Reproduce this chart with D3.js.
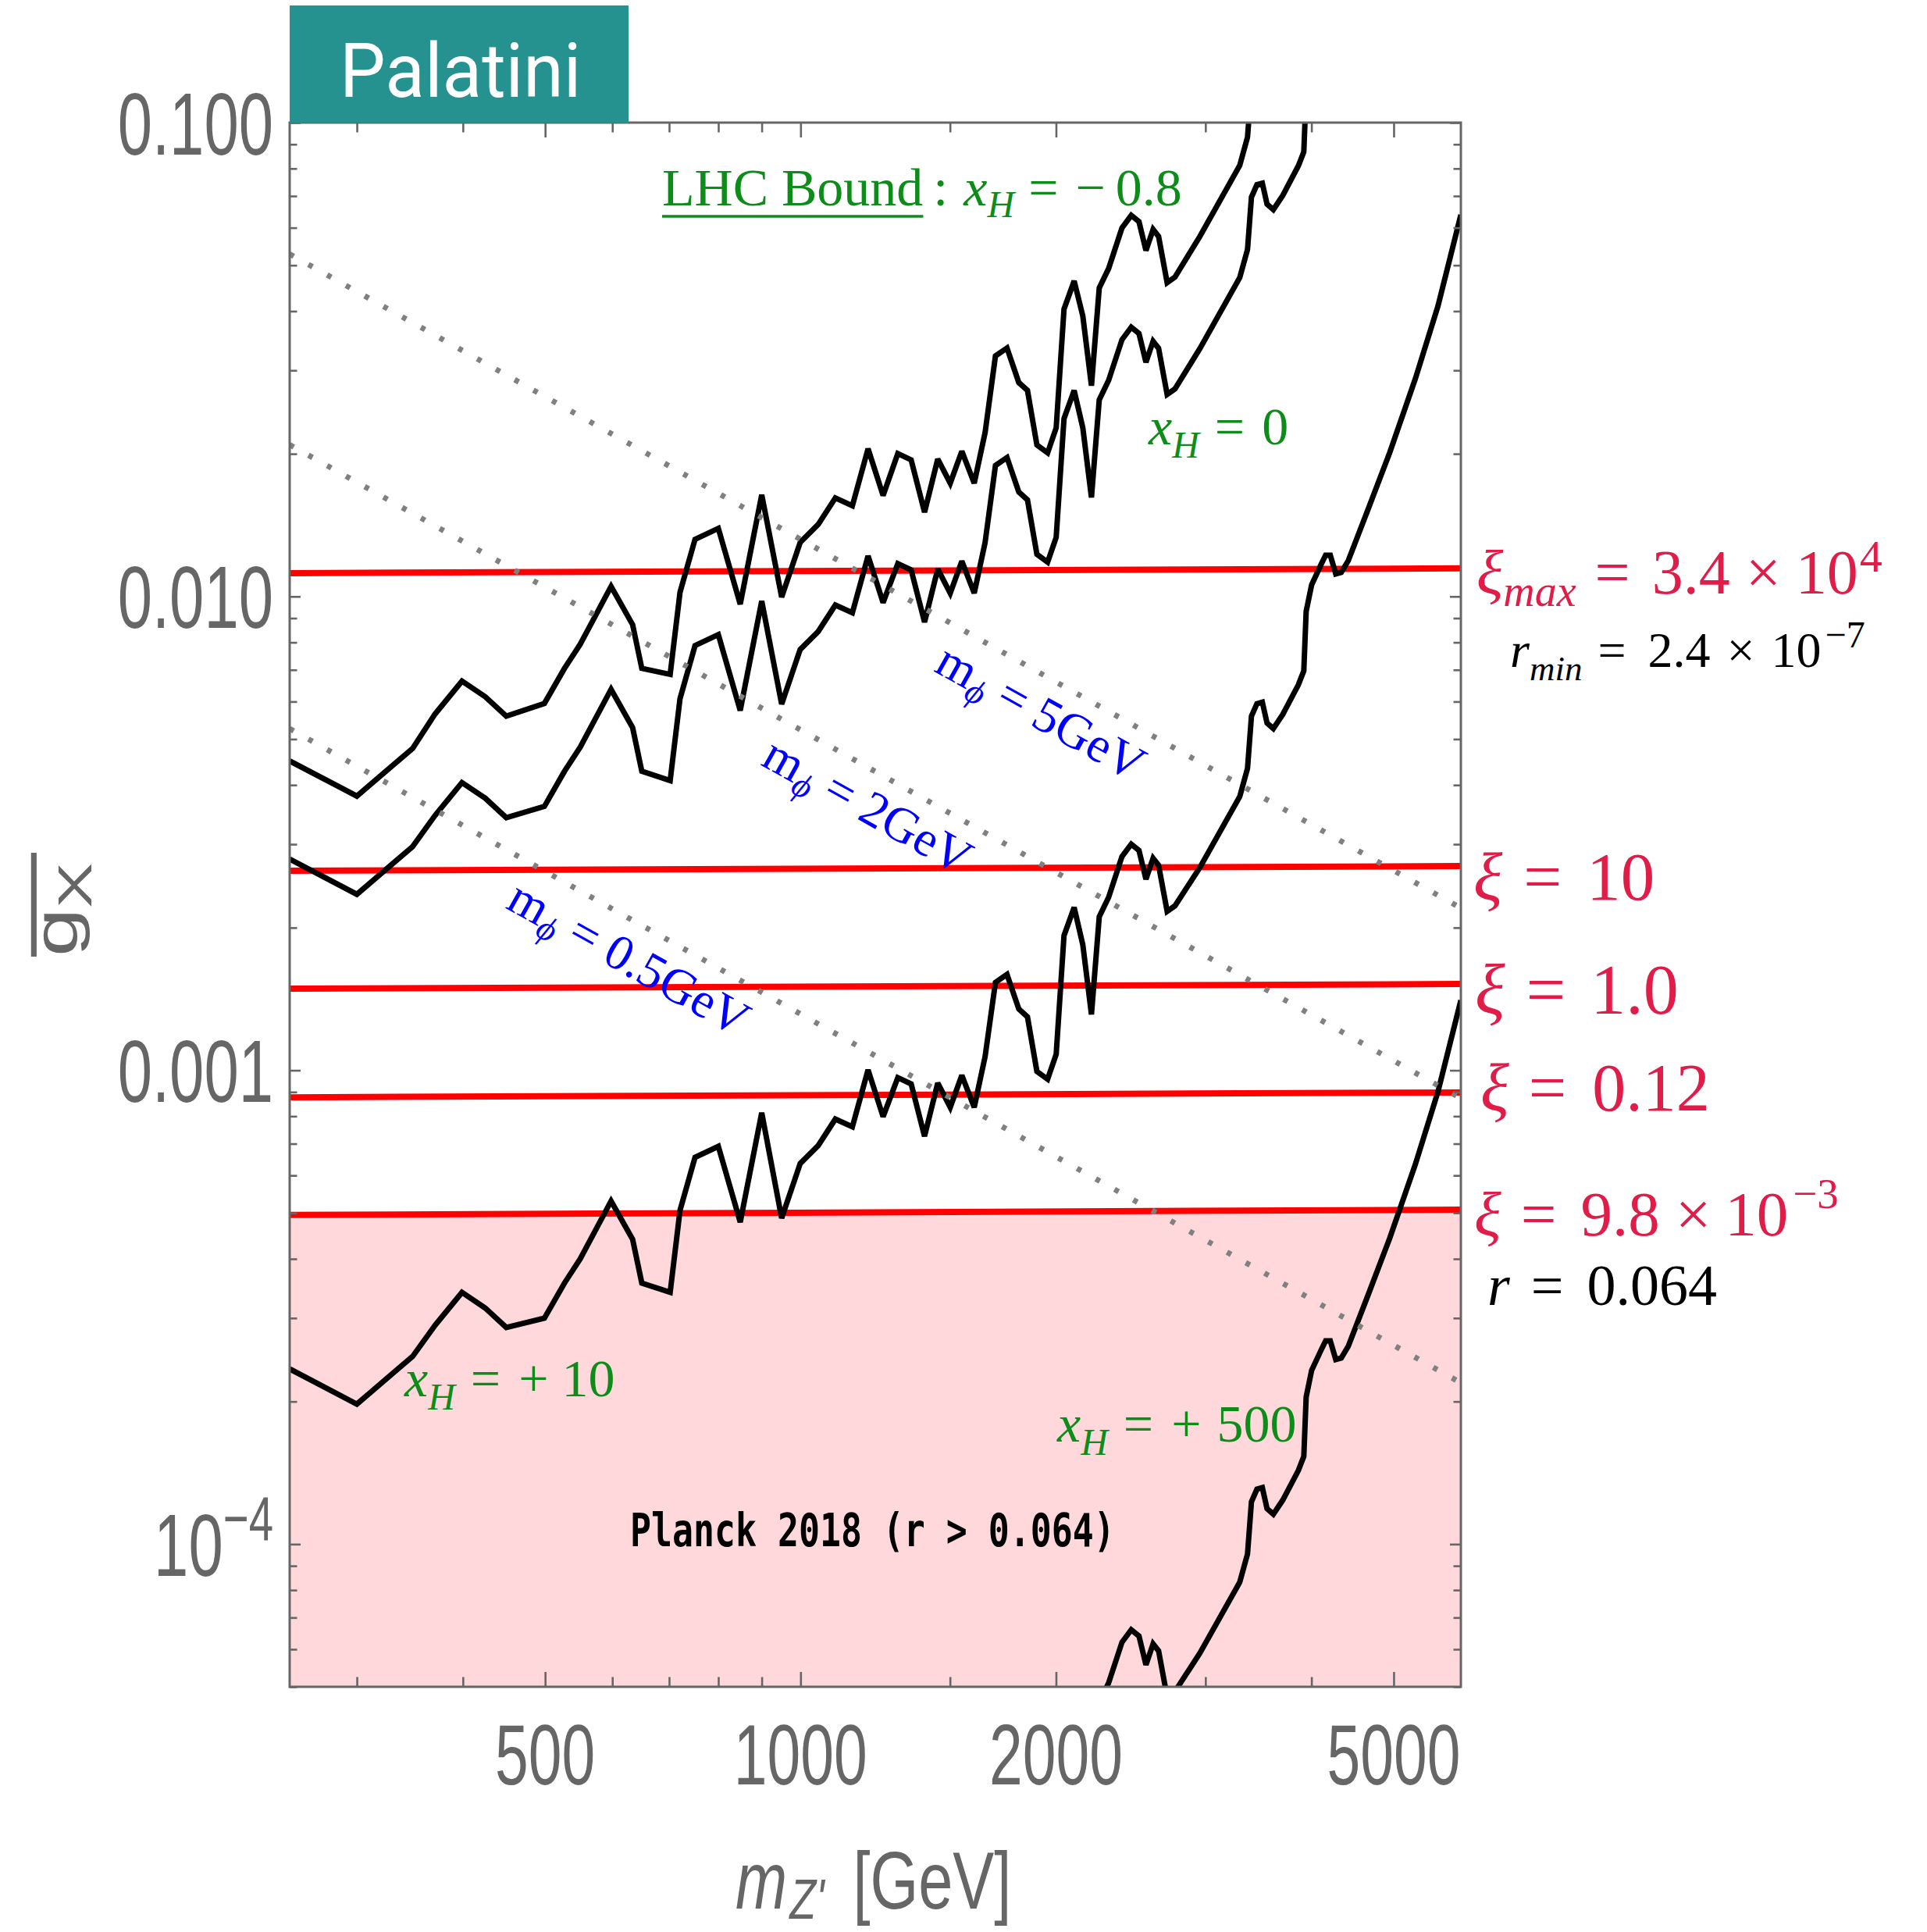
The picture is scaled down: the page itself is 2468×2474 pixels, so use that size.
<!DOCTYPE html>
<html>
<head>
<meta charset="utf-8">
<script src="https://cdn.jsdelivr.net/npm/d3@7"></script>
<style>
  body { margin: 0; background: #fff; }
  svg { display: block; }
</style>
</head>
<body>
<svg id="chart" width="2468" height="2474"></svg>
<script>
// ---- values ----
const mZRange = [250, 6000];
const gRange = [5e-5, 0.1];

const xMajorTicks = [500, 1000, 2000, 5000];
const xMinorTicks = [300, 400, 600, 700, 800, 900, 1500, 3000, 4000];
const yMajorTicks = [0.1, 0.01, 0.001, 1e-4];
const yMajorLabels = ["0.100", "0.010", "0.001", "10^-4"];

// LHC bound curves on a shared mZ grid (GeV)
const mZ = [250, 300, 349, 371, 399, 425, 450, 499, 527, 550,
  598, 634, 650, 702, 721, 751, 800, 849, 900, 950,
  999, 1049, 1099, 1151, 1201, 1251, 1302, 1350, 1400, 1451,
  1501, 1549, 1602, 1650, 1697, 1751, 1808, 1851, 1899, 1955,
  2001, 2044, 2101, 2151, 2202, 2249, 2307, 2392, 2453, 2505,
  2553, 2603, 2642, 2704, 2762, 2955, 3293, 3363, 3399, 3450,
  3501, 3546, 3607, 3700, 3860, 3918, 3943, 4002, 4105, 4157,
  4210, 4273, 4337, 4420, 4670, 4945, 5303, 5639, 6000];

// x_H = -0.8 (runs off the top after ~3400 GeV)
const gXHm08 = [4.496e-3, 3.790e-3, 4.778e-3, 5.651e-3, 6.628e-3, 6.143e-3, 5.589e-3, 5.944e-3, 7.050e-3, 7.930e-3,
  1.050e-2, 8.719e-3, 7.050e-3, 6.846e-3, 1.020e-2, 1.320e-2, 1.392e-2, 9.631e-3, 1.639e-2, 9.972e-3,
  1.300e-2, 1.419e-2, 1.614e-2, 1.554e-2, 2.050e-2, 1.633e-2, 2.002e-2, 1.942e-2, 1.506e-2, 1.950e-2,
  1.734e-2, 2.025e-2, 1.734e-2, 2.218e-2, 3.218e-2, 3.344e-2, 2.827e-2, 2.722e-2, 2.088e-2, 2.010e-2,
  2.269e-2, 4.041e-2, 4.633e-2, 3.906e-2, 2.785e-2, 4.477e-2, 4.921e-2, 5.995e-2, 6.371e-2, 6.180e-2,
  5.371e-2, 5.951e-2, 5.751e-2, 4.596e-2, 4.722e-2, 5.752e-2, 8.124e-2, 9.314e-2, 0.1201];

// x_H = 0
const gXH0 = [2.791e-3, 2.352e-3, 2.966e-3, 3.452e-3, 4.048e-3, 3.752e-3, 3.413e-3, 3.605e-3, 4.276e-3, 4.809e-3,
  6.368e-3, 5.288e-3, 4.276e-3, 4.086e-3, 6.085e-3, 7.876e-3, 8.306e-3, 5.748e-3, 9.780e-3, 5.927e-3,
  7.729e-3, 8.434e-3, 9.593e-3, 9.238e-3, 1.218e-2, 9.706e-3, 1.173e-2, 1.138e-2, 8.826e-3, 1.143e-2,
  1.016e-2, 1.187e-2, 1.016e-2, 1.300e-2, 1.890e-2, 1.964e-2, 1.661e-2, 1.599e-2, 1.227e-2, 1.181e-2,
  1.333e-2, 2.374e-2, 2.721e-2, 2.269e-2, 1.618e-2, 2.600e-2, 2.858e-2, 3.482e-2, 3.700e-2, 3.589e-2,
  3.120e-2, 3.456e-2, 3.340e-2, 2.669e-2, 2.742e-2, 3.334e-2, 4.709e-2, 5.398e-2, 6.961e-2, 7.395e-2,
  7.451e-2, 6.728e-2, 6.552e-2, 7.014e-2, 8.101e-2, 8.674e-2, 0.1158];

// x_H = +10
const gXH10 = [2.343e-4, 1.975e-4, 2.490e-4, 2.898e-4, 3.399e-4, 3.150e-4, 2.866e-4, 2.999e-4, 3.557e-4, 4.001e-4,
  5.298e-4, 4.399e-4, 3.557e-4, 3.399e-4, 5.062e-4, 6.552e-4, 6.910e-4, 4.782e-4, 8.136e-4, 4.874e-4,
  6.356e-4, 6.936e-4, 7.889e-4, 7.597e-4, 1.002e-3, 7.982e-4, 9.650e-4, 9.361e-4, 7.258e-4, 9.397e-4,
  8.354e-4, 9.761e-4, 8.354e-4, 1.069e-3, 1.533e-3, 1.593e-3, 1.347e-3, 1.297e-3, 9.947e-4, 9.576e-4,
  1.081e-3, 1.925e-3, 2.207e-3, 1.840e-3, 1.312e-3, 2.109e-3, 2.318e-3, 2.824e-3, 3.001e-3, 2.911e-3,
  2.530e-3, 2.803e-3, 2.709e-3, 2.165e-3, 2.224e-3, 2.678e-3, 3.782e-3, 4.336e-3, 5.591e-3, 5.940e-3,
  5.985e-3, 5.404e-3, 5.263e-3, 5.634e-3, 6.507e-3, 6.967e-3, 9.298e-3, 1.058e-2, 1.167e-2, 1.222e-2,
  1.222e-2, 1.116e-2, 1.124e-2, 1.190e-2, 1.535e-2, 2.009e-2, 2.881e-2, 4.101e-2, 6.390e-2];

// x_H = +500 (only the high-mass end of the grid enters the plot)
const gXH500 = [2.884e-5, 4.636e-5, 5.095e-5, 6.207e-5, 6.596e-5, 6.398e-5, 5.561e-5, 6.161e-5, 5.954e-5, 4.759e-5,
  4.888e-5, 5.886e-5, 8.313e-5, 9.531e-5, 1.229e-4, 1.306e-4, 1.316e-4, 1.188e-4, 1.157e-4, 1.238e-4,
  1.430e-4, 1.531e-4, 2.044e-4, 2.326e-4, 2.565e-4, 2.686e-4, 2.686e-4, 2.453e-4, 2.471e-4, 2.616e-4,
  3.374e-4, 4.416e-4, 6.332e-4, 9.014e-4, 1.405e-3];

// red xi lines: g at the left (250 GeV) and right (6000 GeV) ends
const xiLeft = [0.01120, 0.002637, 0.001487, 0.000877, 0.000495];
const xiRight = [0.01146, 0.002698, 0.001521, 0.000898, 0.000508];

// dotted m_phi lines
const mPhiNames = ["5GeV", "2GeV", "0.5GeV"];
const mPhiLeft = [0.0528, 0.0209, 0.00526];
const mPhiRight = [0.00220, 0.000873, 0.000219];
const mPhiLabelAt = [[1918, 5.68e-3], [1199, 3.60e-3], [627, 1.718e-3]];

// ---- drawing ----
const svg = d3.select("#chart");
const frame = { left: 371, right: 1871, top: 157, bottom: 2160 };
const gray = "#666666";
const green = "#0e8c1a";
const crimson = "#e01c48";
const serif = "'Liberation Serif', 'Times New Roman', serif";
const sans = "'Liberation Sans', Arial, sans-serif";
const squeeze = 0.705;   // the tick labels in the figure are horizontally condensed

const x = d3.scaleLog().domain(mZRange).range([frame.left, frame.right]);
const y = d3.scaleLog().domain(gRange).range([frame.bottom, frame.top]);
const line = d3.line().x(d => x(d[0])).y(d => y(d[1]));

svg.append("rect").attr("width", 2468).attr("height", 2474).attr("fill", "#fff");

svg.append("defs").append("clipPath").attr("id", "plotClip")
  .append("rect")
  .attr("x", frame.left).attr("y", frame.top)
  .attr("width", frame.right - frame.left).attr("height", frame.bottom - frame.top);

const plot = svg.append("g").attr("clip-path", "url(#plotClip)");

// Planck excluded region, under the lowest red line
const lo = xiLeft.length - 1;
plot.append("path")
  .attr("d", line([[mZRange[0], xiLeft[lo]], [mZRange[1], xiRight[lo]],
                   [mZRange[1], gRange[0]], [mZRange[0], gRange[0]]]) + "Z")
  .attr("fill", "#fed8da");

xiLeft.forEach((gl, i) => {
  plot.append("path")
    .attr("d", line([[mZRange[0], gl], [mZRange[1], xiRight[i]]]))
    .attr("fill", "none").attr("stroke", "#ff0000").attr("stroke-width", 8);
});

[gXHm08, gXH0, gXH10, gXH500].forEach(gs => {
  const off = gs === gXH500 ? mZ.length - gs.length : 0;
  const pts = gs.map((g, i) => [mZ[i + off], g]);
  plot.append("path")
    .attr("d", line(pts))
    .attr("fill", "none").attr("stroke", "#000")
    .attr("stroke-width", 7).attr("stroke-linejoin", "miter").attr("stroke-miterlimit", 2.5);
});

mPhiLeft.forEach((gl, i) => {
  plot.append("path")
    .attr("d", line([[mZRange[0], gl], [mZRange[1], mPhiRight[i]]]))
    .attr("fill", "none").attr("stroke", "#808080")
    .attr("stroke-width", 7).attr("stroke-dasharray", "6,21.5");
});

// frame + inward ticks
svg.append("rect")
  .attr("x", frame.left).attr("y", frame.top)
  .attr("width", frame.right - frame.left).attr("height", frame.bottom - frame.top)
  .attr("fill", "none").attr("stroke", gray).attr("stroke-width", 3);

function ticks(axisFn, scale, values, size, transform) {
  const g = svg.append("g").attr("transform", transform)
    .call(axisFn(scale).tickValues(values).tickSize(size).tickFormat(""));
  g.select(".domain").remove();
  g.selectAll("line").attr("stroke", gray).attr("stroke-width", 2.6);
}
const yMinor = y.ticks().filter(v => Math.abs(Math.log10(v) - Math.round(Math.log10(v))) > 1e-6);

ticks(d3.axisBottom, x, xMajorTicks, -19, `translate(0,${frame.bottom})`);
ticks(d3.axisBottom, x, xMinorTicks, -12.5, `translate(0,${frame.bottom})`);
ticks(d3.axisTop, x, xMajorTicks, -19, `translate(0,${frame.top})`);
ticks(d3.axisTop, x, xMinorTicks, -12.5, `translate(0,${frame.top})`);
ticks(d3.axisLeft, y, yMajorTicks, -14, `translate(${frame.left},0)`);
ticks(d3.axisLeft, y, yMinor, -9.5, `translate(${frame.left},0)`);
ticks(d3.axisRight, y, yMajorTicks, -14, `translate(${frame.right},0)`);
ticks(d3.axisRight, y, yMinor, -9.5, `translate(${frame.right},0)`);

// tick labels
xMajorTicks.forEach(v => {
  svg.append("text")
    .attr("transform", `translate(${x(v)},2285) scale(${squeeze},1)`)
    .attr("text-anchor", "middle")
    .attr("font-family", sans).attr("font-size", 109).attr("fill", gray)
    .text(v);
});
yMajorTicks.forEach((v, i) => {
  const lab = yMajorLabels[i];
  const t = svg.append("text")
    .attr("transform", `translate(350,${y(v) + 40.5}) scale(${squeeze},1)`)
    .attr("text-anchor", "end")
    .attr("font-family", sans).attr("font-size", 113).attr("fill", gray);
  if (lab.includes("^")) {
    const [b, e] = lab.split("^");
    t.append("tspan").text(b);
    t.append("tspan").attr("font-size", 80).attr("dy", -46).text(e.replace("-", "\u2212"));
  } else {
    t.text(lab);
  }
});

// axis titles
const xt = svg.append("text")
  .attr("transform", `translate(942,2444) scale(0.77,1)`)
  .attr("font-family", sans).attr("font-size", 103).attr("fill", gray);
xt.append("tspan").attr("font-style", "italic").text("m");
xt.append("tspan").attr("font-style", "italic").attr("font-size", 72).attr("dx", 4).attr("dy", 13).text("Z'");
xt.append("tspan").attr("dx", 48).attr("dy", -13).text("[GeV]");

const yt = svg.append("g").attr("transform", "translate(98,1225) rotate(-90) scale(1,0.71)");
const ytt = yt.append("text").attr("font-family", sans).attr("font-size", 112).attr("fill", gray);
ytt.append("tspan").text("g");
ytt.append("tspan").attr("font-size", 87).attr("dy", 27).text("X");
yt.append("line").attr("x1", 0).attr("x2", 133).attr("y1", -77).attr("y2", -77)
  .attr("stroke", gray).attr("stroke-width", 10);

// Palatini tag
svg.append("rect").attr("x", frame.left).attr("y", 7).attr("width", 434).attr("height", frame.top - 7)
  .attr("fill", "#259290");
svg.append("text")
  .attr("transform", "translate(435,124) scale(0.96,1)")
  .attr("font-family", "Roboto, 'Noto Sans', sans-serif").attr("font-size", 97).attr("fill", "#fff")
  .text("Palatini");

// math-style labels: parts = [text, {it, size, dy (from baseline), dx}]
function mathText(parent, x0, y0, size, color, parts, anchor) {
  const t = parent.append("text")
    .attr("x", x0).attr("y", y0)
    .attr("font-family", serif).attr("font-size", size).attr("fill", color)
    .attr("text-anchor", anchor || "start");
  let base = 0;
  const spans = parts.map(([str, o]) => {
    o = o || {};
    const off = o.dy || 0;
    const ts = t.append("tspan")
      .attr("dx", o.dx || 0)
      .attr("dy", off - base)
      .attr("font-size", o.size || size)
      .attr("font-style", o.it ? "italic" : "normal")
      .text(str);
    base = off;
    return ts;
  });
  return spans;
}

// green LHC labels
const lhc = mathText(svg, 848, 263, 68, green, [
  ["LHC Bound"], [":", { dx: 13 }], ["x", { it: 1, dx: 20 }], ["H", { it: 1, size: 48, dy: 15 }],
  ["=", { dx: 18 }], ["\u2212", { dx: 22 }], ["0.8", { dx: 13 }]
]);
svg.append("line").attr("x1", 848).attr("x2", 848 + lhc[0].node().getComputedTextLength())
  .attr("y1", 277).attr("y2", 277).attr("stroke", green).attr("stroke-width", 3.5);

mathText(svg, 1471, 569, 68, green, [
  ["x", { it: 1 }], ["H", { it: 1, size: 48, dy: 17 }], ["=", { dx: 20 }], ["0", { dx: 22 }]
]);
mathText(svg, 518, 1788, 68, green, [
  ["x", { it: 1 }], ["H", { it: 1, size: 48, dy: 17 }], ["=", { dx: 20 }], ["+", { dx: 23 }], ["10", { dx: 17 }]
]);
mathText(svg, 1354, 1846, 68, green, [
  ["x", { it: 1 }], ["H", { it: 1, size: 48, dy: 17 }], ["=", { dx: 20 }], ["+", { dx: 23 }], ["500", { dx: 20 }]
]);

// blue m_phi labels, parallel to the dotted lines
mPhiNames.forEach((nm, i) => {
  const a = [x(mZRange[0]), y(mPhiLeft[i])], b = [x(mZRange[1]), y(mPhiRight[i])];
  const ang = Math.atan2(b[1] - a[1], b[0] - a[0]) * 180 / Math.PI;
  const [lm, lg] = mPhiLabelAt[i];
  const g = svg.append("g").attr("transform", `translate(${x(lm)},${y(lg)}) rotate(${ang})`);
  mathText(g, 0, 20, 64, "#0000ff", [
    ["m"], ["\u03d5", { it: 1, size: 45, dy: 12 }], ["=", { dx: 16 }], [nm, { dx: 16 }]
  ], "middle");
});

// right-hand xi / r annotations
mathText(svg, 1891, 760, 80, crimson, [
  ["\u03be", { it: 1 }], ["max", { it: 1, size: 56, dy: 16 }], ["=", { dx: 24 }], ["3.4", { dx: 28 }],
  ["\u00d7", { dx: 20 }], ["10", { dx: 19 }], ["4", { size: 58, dy: -28, dx: 2 }]
]);
mathText(svg, 1934, 854, 64, "#000", [
  ["r", { it: 1 }], ["min", { it: 1, size: 45, dy: 17 }], ["=", { dx: 20 }], ["2.4", { dx: 28 }],
  ["\u00d7", { dx: 21 }], ["10", { dx: 21 }], ["\u22127", { size: 48, dy: -25, dx: 5 }]
]);
mathText(svg, 1887, 1152, 87, crimson, [["\u03be", { it: 1 }], ["=", { dx: 27 }], ["10", { dx: 32 }]]);
mathText(svg, 1889, 1298, 90, crimson, [["\u03be", { it: 1 }], ["=", { dx: 27 }], ["1.0", { dx: 32 }]]);
mathText(svg, 1896, 1422, 86, crimson, [["\u03be", { it: 1 }], ["=", { dx: 25 }], ["0.12", { dx: 33 }]]);
mathText(svg, 1888, 1582, 81, crimson, [
  ["\u03be", { it: 1 }], ["=", { dx: 25 }], ["9.8", { dx: 31 }], ["\u00d7", { dx: 20 }], ["10", { dx: 18 }],
  ["\u22123", { size: 55, dy: -35, dx: 6 }]
]);
mathText(svg, 1905, 1671, 74, "#000", [["r", { it: 1 }], ["=", { dx: 27 }], ["0.064", { dx: 30 }]]);

// Planck region label
svg.append("text")
  .attr("transform", "translate(807,1980) scale(0.773,1)")
  .attr("font-family", "'DejaVu Sans Mono', monospace").attr("font-weight", "bold")
  .attr("font-size", 58).attr("fill", "#000")
  .text("Planck 2018 (r > 0.064)");
</script>
</body>
</html>
